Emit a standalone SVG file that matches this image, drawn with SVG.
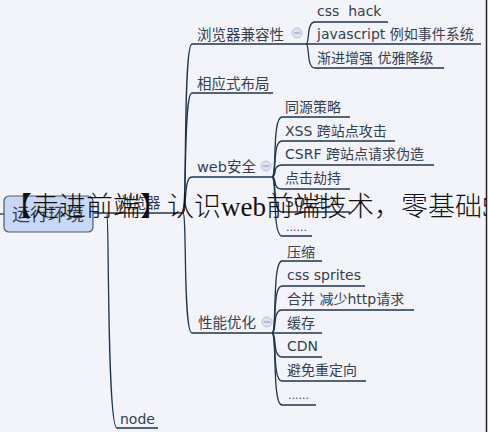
<svg xmlns="http://www.w3.org/2000/svg" width="488" height="432" viewBox="0 0 488 432">
<defs>
<style>
.t{font-family:"DejaVu Sans","Noto Sans CJK SC",sans-serif;font-size:14px;fill:#33404f}
.m{font-size:14.5px}
.d{font-size:11px}
.c{fill:none;stroke:#1f3550;stroke-width:1.3}
.btn{fill:#dde2f2;stroke:#b9c1dc;stroke-width:1}
.btnm{stroke:#98a2c6;stroke-width:1.2}
.wm{font-family:"Liberation Serif","Noto Sans CJK SC",serif;font-size:27px;font-weight:300;fill:#111}
</style>
<clipPath id="clipR"><rect x="0" y="0" width="486" height="432"/></clipPath>
</defs>
<rect x="0" y="0" width="488" height="432" fill="#f3f4fa"/>

<g id="connectors">
<line class="c" x1="0" y1="214" x2="4" y2="214"/>
<line class="c" x1="93" y1="213" x2="183" y2="213"/>
<path class="c" d="M107,213 C109,213 107,428 117,428 L158,428"/>
<path class="c" d="M183,213 C187,213 183,44 192,44 L306,44"/>
<path class="c" d="M183,213 C187,213 183,93 192,93 L273,93"/>
<path class="c" d="M183,213 C187,213 183,177 192,177 L272,177"/>
<path class="c" d="M183,213 C187,213 183,333 192,333 L272,333"/>
<path class="c" d="M306,44 C310,44 306,22 315,22 L388,22"/>
<path class="c" d="M306,44 L481,44"/>
<path class="c" d="M306,44 C310,44 306,68 315,68 L444,68"/>
<path class="c" d="M272,177 C277,177 272,117 282,117 L350,117"/>
<path class="c" d="M272,177 C277,177 272,141 282,141 L395,141"/>
<path class="c" d="M272,177 C277,177 272,165 282,165 L434,165"/>
<path class="c" d="M272,177 C277,177 272,189 282,189 L350,189"/>
<path class="c" d="M272,177 C277,177 272,212 282,212 L350,212"/>
<path class="c" d="M272,177 C277,177 272,236 282,236 L312,236"/>
<path class="c" d="M272,333 C277,333 272,261 282,261 L322,261"/>
<path class="c" d="M272,333 C277,333 272,286 282,286 L365,286"/>
<path class="c" d="M272,333 C277,333 272,310 282,310 L414,310"/>
<path class="c" d="M272,333 L322,333"/>
<path class="c" d="M272,333 C277,333 272,357 282,357 L322,357"/>
<path class="c" d="M272,333 C277,333 272,381 282,381 L366,381"/>
<path class="c" d="M272,333 C277,333 272,405 282,405 L316,405"/>
</g>

<g id="root">
<rect x="4" y="196" width="89" height="36" rx="5" fill="#c8d8f4" stroke="#465a78" stroke-width="1.2"/>
<text class="t" x="48" y="221" text-anchor="middle" style="font-size:18px">运行环境</text>
</g>
<g id="browser"><text class="t m" x="117" y="208">浏览器</text></g>
<g id="node"><text class="t" x="120" y="424">node</text></g>

<g id="compat">
<text class="t m" x="197" y="40">浏览器兼容性</text>
<circle class="btn" cx="297" cy="33" r="5"/><line class="btnm" x1="294" y1="33" x2="300" y2="33"/>
</g>
<g id="responsive"><text class="t m" x="197" y="89">相应式布局</text></g>
<g id="websec">
<text class="t m" x="197" y="172">web安全</text>
<circle class="btn" cx="266" cy="166" r="5"/><line class="btnm" x1="263" y1="166" x2="269" y2="166"/>
</g>
<g id="perf">
<text class="t m" x="198" y="328">性能优化</text>
<circle class="btn" cx="267" cy="322" r="5"/><line class="btnm" x1="264" y1="322" x2="270" y2="322"/>
</g>

<g id="c-csshack"><text class="t" x="317" y="16" xml:space="preserve">css  hack</text></g>
<g id="c-js"><text class="t" x="317" y="39">javascript 例如事件系统</text></g>
<g id="c-prog"><text class="t" x="317" y="63">渐进增强 优雅降级</text></g>

<g id="s-same"><text class="t" x="285" y="112">同源策略</text></g>
<g id="s-xss"><text class="t" x="285" y="136">XSS 跨站点攻击</text></g>
<g id="s-csrf"><text class="t" x="285" y="159">CSRF 跨站点请求伪造</text></g>
<g id="s-click"><text class="t" x="285" y="183">点击劫持</text></g>
<g id="s-sql"><text class="t" x="285" y="207">SQL注入</text></g>
<g id="s-more"><text class="t d" x="286" y="231">......</text></g>

<g id="p-zip"><text class="t" x="287" y="257">压缩</text></g>
<g id="p-sprites"><text class="t" x="287" y="280">css sprites</text></g>
<g id="p-merge"><text class="t" x="287" y="304">合并 减少http请求</text></g>
<g id="p-cache"><text class="t" x="287" y="328">缓存</text></g>
<g id="p-cdn"><text class="t" x="287" y="351">CDN</text></g>
<g id="p-redirect"><text class="t" x="287" y="375">避免重定向</text></g>
<g id="p-more"><text class="t d" x="288" y="399">......</text></g>

<g clip-path="url(#clipR)">
<text class="wm" x="5" y="216">【走进前端】认识web前端技术，零基础5</text>
</g>
<rect x="487" y="0" width="1" height="432" fill="#ffffff"/>
<line x1="486.5" y1="0" x2="486.5" y2="432" stroke="#222" stroke-width="1.5"/>
</svg>
